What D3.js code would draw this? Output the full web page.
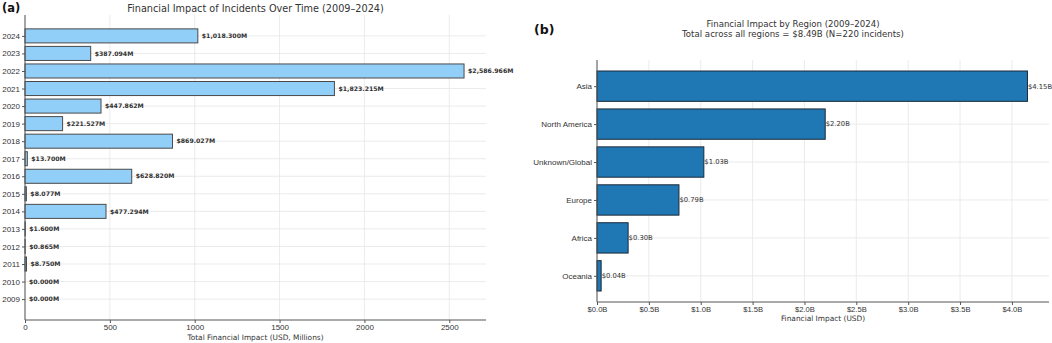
<!DOCTYPE html>
<html>
<head>
<meta charset="utf-8">
<script src="https://cdn.jsdelivr.net/npm/d3@7"></script>
<style>
  body { margin: 0; background: #fff; }
  svg { display: block; font-family: "DejaVu Sans", sans-serif; }
  .grid line { stroke: #e6e6e6; stroke-width: 0.8; }
  .axis path, .axis line { stroke: #555; }
  .axis text { fill: #333; }
</style>
</head>
<body>
<script>
// panel (a): yearly totals, USD millions
const years = d3.range(2009, 2025);
const yearImpact = [0, 0, 8.750, 0.865, 1.600, 477.294, 8.077, 628.820,
                    13.700, 869.027, 221.527, 447.862, 1823.215, 2586.966, 387.094, 1018.300];
const yearTicks = [0, 500, 1000, 1500, 2000, 2500];

// panel (b): totals per region, USD billions
const regions = ["Asia", "North America", "Unknown/Global", "Europe", "Africa", "Oceania"];
const regionImpact = [4.15, 2.20, 1.03, 0.79, 0.30, 0.04];
const regionTicks = [0, 0.5, 1.0, 1.5, 2.0, 2.5, 3.0, 3.5, 4.0];

const W = 1052, H = 343;
const svg = d3.select("body").append("svg")
    .attr("width", W)
    .attr("height", H);

// ---------- (a) ----------
const a = {left: 25, right: 486, top: 15, bottom: 320};
const xa = d3.scaleLinear()
    .domain([0, d3.max(yearImpact) * 1.05])
    .range([a.left, a.right]);
// matplotlib barh: bars span -0.4..n-0.6, 5% padding
const na = years.length;
const padA = (na - 0.2) * 0.05;
const ya = d3.scaleLinear()
    .domain([-0.4 - padA, na - 0.6 + padA])
    .range([a.bottom, a.top]);
const bwA = ya(0) - ya(0.8);

const gA = svg.append("g");

gA.append("g").attr("class", "grid")
  .selectAll("line.v").data(yearTicks).join("line")
    .attr("x1", d => xa(d)).attr("x2", d => xa(d))
    .attr("y1", a.top).attr("y2", a.bottom);
gA.append("g").attr("class", "grid")
  .selectAll("line.h").data(years).join("line")
    .attr("x1", a.left).attr("x2", a.right)
    .attr("y1", (d, i) => ya(i)).attr("y2", (d, i) => ya(i));

gA.append("g")
  .selectAll("rect").data(yearImpact).join("rect")
    .attr("x", xa(0))
    .attr("y", (d, i) => ya(i) - bwA / 2)
    .attr("width", d => xa(d) - xa(0))
    .attr("height", bwA)
    .attr("fill", "#92cff8")
    .attr("stroke", "#4a4a4a")
    .attr("stroke-width", 1);

const fmtM = d3.format(",.3f");
gA.append("g")
  .selectAll("text").data(yearImpact).join("text")
    .attr("x", d => xa(d) + 4)
    .attr("y", (d, i) => ya(i))
    .attr("dy", "0.35em")
    .attr("font-size", 6.2)
    .attr("font-weight", "bold")
    .attr("fill", "#333")
    .text(d => "$" + fmtM(d) + "M");

gA.append("g").attr("class", "axis")
    .attr("transform", `translate(0,${a.bottom})`)
    .call(d3.axisBottom(xa).tickValues(yearTicks).tickSize(3).tickPadding(1.5).tickFormat(d3.format("d")))
    .call(g => g.selectAll("text").attr("font-size", 8))
    .call(g => g.select(".domain").attr("d", `M${a.left},0H${a.right}`));

gA.append("g").attr("class", "axis")
    .attr("transform", `translate(${a.left},0)`)
    .call(d3.axisLeft(ya).tickValues(d3.range(na)).tickSize(3).tickPadding(2).tickFormat(i => years[i]))
    .call(g => g.selectAll("text").attr("font-size", 8))
    .call(g => g.select(".domain").attr("d", `M0,${a.top}V${a.bottom}`));

svg.append("text")
    .attr("x", (a.left + a.right) / 2).attr("y", 11.5)
    .attr("text-anchor", "middle")
    .attr("font-size", 9.7)
    .attr("fill", "#333")
    .text("Financial Impact of Incidents Over Time (2009–2024)");
svg.append("text")
    .attr("x", (a.left + a.right) / 2).attr("y", 340)
    .attr("text-anchor", "middle")
    .attr("font-size", 7.4)
    .attr("fill", "#333")
    .text("Total Financial Impact (USD, Millions)");
svg.append("text")
    .attr("x", 2).attr("y", 12)
    .attr("font-size", 11.5)
    .attr("font-weight", "bold")
    .attr("fill", "#111")
    .text("(a)");

// ---------- (b) ----------
const b = {left: 597, right: 1049, top: 60, bottom: 302};
const xb = d3.scaleLinear()
    .domain([0, d3.max(regionImpact) * 1.05])
    .range([b.left, b.right]);
const nb = regions.length;
const padB = (nb - 0.2) * 0.05;
const yb = d3.scaleLinear()
    .domain([-0.4 - padB, nb - 0.6 + padB])
    .range([b.top, b.bottom]);
const bwB = yb(0.8) - yb(0);

const gB = svg.append("g");

gB.append("g").attr("class", "grid")
  .selectAll("line").data(regionTicks).join("line")
    .attr("x1", d => xb(d)).attr("x2", d => xb(d))
    .attr("y1", b.top).attr("y2", b.bottom);
gB.append("g").attr("class", "grid")
  .selectAll("line").data(regions).join("line")
    .attr("x1", b.left).attr("x2", b.right)
    .attr("y1", (d, i) => yb(i)).attr("y2", (d, i) => yb(i));

gB.append("g")
  .selectAll("rect").data(regionImpact).join("rect")
    .attr("x", xb(0))
    .attr("y", (d, i) => yb(i) - bwB / 2)
    .attr("width", d => xb(d) - xb(0))
    .attr("height", bwB)
    .attr("fill", "#1f77b4")
    .attr("stroke", "#1c2a38")
    .attr("stroke-width", 1);

gB.append("g")
  .selectAll("text").data(regionImpact).join("text")
    .attr("x", d => xb(d) + 0.5)
    .attr("y", (d, i) => yb(i))
    .attr("dy", "0.35em")
    .attr("font-size", 6.8)
    .attr("fill", "#333")
    .text(d => "$" + d.toFixed(2) + "B");

gB.append("g").attr("class", "axis")
    .attr("transform", `translate(0,${b.bottom})`)
    .call(d3.axisBottom(xb).tickValues(regionTicks).tickSize(3).tickPadding(1.5).tickFormat(d => "$" + d.toFixed(1) + "B"))
    .call(g => g.selectAll("text").attr("font-size", 7.6))
    .call(g => g.select(".domain").attr("d", `M${b.left},0H${b.right}`));

gB.append("g").attr("class", "axis")
    .attr("transform", `translate(${b.left},0)`)
    .call(d3.axisLeft(yb).tickValues(d3.range(nb)).tickSize(3).tickPadding(2).tickFormat(i => regions[i]))
    .call(g => g.selectAll("text").attr("font-size", 8))
    .call(g => g.select(".domain").attr("d", `M0,${b.top}V${b.bottom}`));

svg.append("text")
    .attr("x", 793).attr("y", 27)
    .attr("text-anchor", "middle")
    .attr("font-size", 8.6)
    .attr("fill", "#333")
    .text("Financial Impact by Region (2009–2024)");
svg.append("text")
    .attr("x", 793).attr("y", 37)
    .attr("text-anchor", "middle")
    .attr("font-size", 8.6)
    .attr("fill", "#333")
    .text("Total across all regions = $8.49B (N=220 incidents)");
svg.append("text")
    .attr("x", (b.left + b.right) / 2).attr("y", 320.5)
    .attr("text-anchor", "middle")
    .attr("font-size", 7.4)
    .attr("fill", "#333")
    .text("Financial Impact (USD)");
svg.append("text")
    .attr("x", 534).attr("y", 34)
    .attr("font-size", 12.5)
    .attr("font-weight", "bold")
    .attr("fill", "#111")
    .text("(b)");
</script>
</body>
</html>
